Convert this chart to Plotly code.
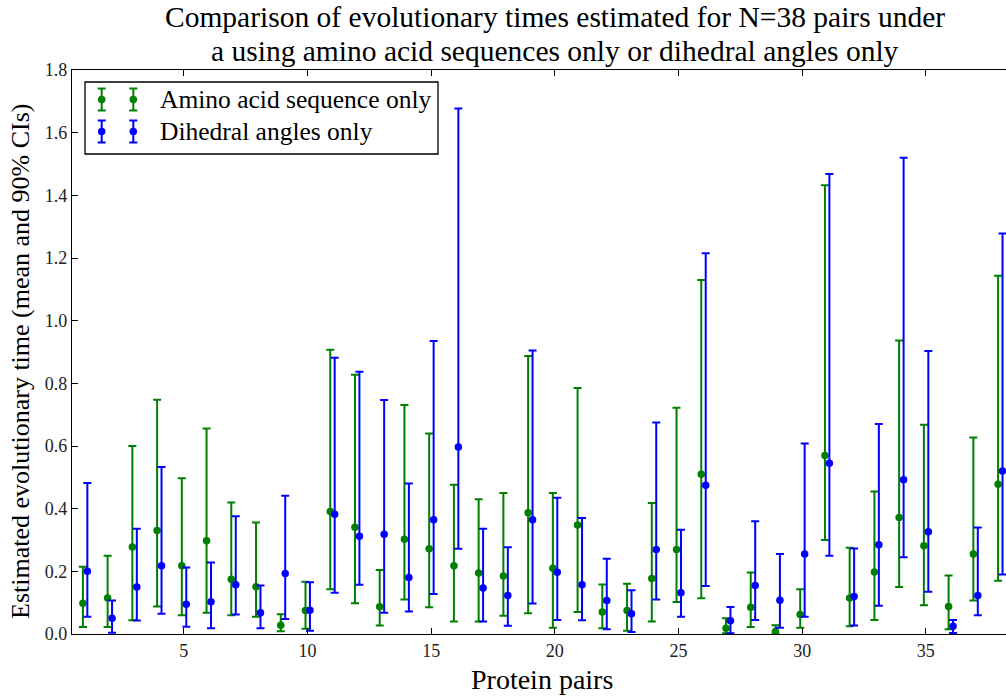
import numpy as np
import plotly.graph_objects as go

pairs = list(range(1, 39))

# Amino acid sequence only: mean, lower 5%, upper 95%
aa_mean = [0.098, 0.115, 0.278, 0.330, 0.218, 0.298, 0.175, 0.151, 0.028, 0.075,
           0.391, 0.341, 0.087, 0.302, 0.272, 0.218, 0.195, 0.185, 0.387, 0.210,
           0.348, 0.070, 0.075, 0.177, 0.270, 0.510, 0.018, 0.085, 0.008, 0.062,
           0.570, 0.115, 0.198, 0.372, 0.282, 0.088, 0.255, 0.478]
aa_lo = [0.022, 0.022, 0.044, 0.088, 0.060, 0.068, 0.060, 0.055, 0.009, 0.017,
         0.143, 0.098, 0.027, 0.110, 0.085, 0.040, 0.040, 0.058, 0.066, 0.020,
         0.070, 0.018, 0.010, 0.040, 0.102, 0.114, 0.002, 0.022, 0.000, 0.020,
         0.300, 0.025, 0.045, 0.150, 0.092, 0.015, 0.107, 0.170]
aa_hi = [0.215, 0.250, 0.600, 0.748, 0.497, 0.656, 0.420, 0.356, 0.063, 0.167,
         0.907, 0.827, 0.204, 0.731, 0.640, 0.476, 0.430, 0.450, 0.887, 0.450,
         0.785, 0.158, 0.160, 0.418, 0.722, 1.130, 0.050, 0.196, 0.028, 0.143,
         1.432, 0.275, 0.455, 0.937, 0.668, 0.187, 0.627, 1.143]

# Dihedral angles only: mean, lower 5%, upper 95%
dh_mean = [0.200, 0.050, 0.150, 0.218, 0.095, 0.103, 0.157, 0.068, 0.193, 0.076,
           0.382, 0.312, 0.318, 0.180, 0.365, 0.597, 0.147, 0.123, 0.365, 0.197,
           0.157, 0.107, 0.065, 0.270, 0.132, 0.475, 0.042, 0.155, 0.108, 0.255,
           0.545, 0.120, 0.285, 0.492, 0.326, 0.025, 0.123, 0.520]
dh_lo = [0.055, 0.004, 0.043, 0.065, 0.023, 0.018, 0.062, 0.018, 0.048, 0.010,
         0.132, 0.157, 0.068, 0.072, 0.128, 0.272, 0.040, 0.026, 0.097, 0.045,
         0.044, 0.015, 0.006, 0.110, 0.055, 0.153, 0.002, 0.045, 0.020, 0.055,
         0.250, 0.027, 0.090, 0.245, 0.135, 0.003, 0.060, 0.190]
dh_hi = [0.482, 0.107, 0.336, 0.533, 0.212, 0.228, 0.376, 0.155, 0.441, 0.165,
         0.882, 0.837, 0.747, 0.480, 0.935, 1.677, 0.336, 0.277, 0.905, 0.435,
         0.370, 0.240, 0.140, 0.675, 0.333, 1.215, 0.086, 0.360, 0.255, 0.608,
         1.468, 0.273, 0.670, 1.520, 0.903, 0.045, 0.340, 1.278]

GREEN = "#008000"
BLUE = "#0000ff"
FONT = "Liberation Serif"

W, H = 1006, 696
L, T, B, R = 72, 70, 62, 0
pw = W - L - R
ph = H - T - B


def px2paper_x(px):
    return (px - L) / pw


def py2paper_y(py):
    return (H - B - py) / ph


x = np.array(pairs, dtype=float)

fig = go.Figure()


def add_series(xs, mean, lo, hi, color, name):
    mean = np.array(mean)
    fig.add_trace(go.Scatter(
        x=xs, y=mean, mode="markers", name=name, showlegend=False,
        marker=dict(color=color, size=7.5, line=dict(width=0)),
        error_y=dict(type="data", symmetric=False,
                     array=np.array(hi) - mean, arrayminus=mean - np.array(lo),
                     color=color, thickness=2, width=4),
        xaxis="x", yaxis="y"))


add_series(x - 0.08, aa_mean, aa_lo, aa_hi, GREEN, "Amino acid sequence only")
add_series(x + 0.10, dh_mean, dh_lo, dh_hi, BLUE, "Dihedral angles only")

# --- legend drawn in an inset pixel-coordinate axes ---
lx0, lx1, ly0, ly1 = 85, 438, 82, 154
legend_names = ["Amino acid sequence only", "Dihedral angles only"]
legend_colors = [GREEN, BLUE]
legend_rows = [99.5, 131.5]
for name, col, yy in zip(legend_names, legend_colors, legend_rows):
    fig.add_trace(go.Scatter(
        x=[101.7, 133.3], y=[yy, yy], mode="markers", showlegend=False,
        marker=dict(color=col, size=7.5),
        error_y=dict(type="constant", value=11, color=col, thickness=2, width=4),
        xaxis="x2", yaxis="y2", hoverinfo="skip"))
    fig.add_annotation(x=px2paper_x(158), y=py2paper_y(yy), xref="paper", yref="paper",
                       text=name, showarrow=False, xanchor="left", yanchor="middle",
                       font=dict(family=FONT, size=25.5, color="black"))

fig.add_shape(type="rect", xref="paper", yref="paper",
              x0=px2paper_x(lx0), x1=px2paper_x(lx1),
              y0=py2paper_y(ly0), y1=py2paper_y(ly1),
              line=dict(color="black", width=1.3), fillcolor="rgba(0,0,0,0)")

# Titles
title_lines = ["Comparison of evolutionary times estimated for N=38 pairs under",
               "a using amino acid sequences only or dihedral angles only"]
for txt, yy in zip(title_lines, [17.5, 51]):
    fig.add_annotation(x=px2paper_x(555), y=py2paper_y(yy), xref="paper", yref="paper",
                       text=txt, showarrow=False, xanchor="center", yanchor="middle",
                       font=dict(family=FONT, size=29.5, color="black"))
fig.add_annotation(x=px2paper_x(542), y=py2paper_y(679), xref="paper", yref="paper",
                   text="Protein pairs", showarrow=False, xanchor="center", yanchor="middle",
                   font=dict(family=FONT, size=28, color="black"))
fig.add_annotation(x=px2paper_x(20), y=py2paper_y(361), xref="paper", yref="paper",
                   text="Estimated evolutionary time (mean and 90% CIs)",
                   showarrow=False, textangle=-90, xanchor="center", yanchor="middle",
                   font=dict(family=FONT, size=26, color="black"))

axis_common = dict(showgrid=False, zeroline=False, showline=True,
                   linecolor="black", linewidth=1.3, ticks="inside",
                   tickcolor="black", tickwidth=1, ticklen=6,
                   tickfont=dict(family=FONT, size=18, color="#222"))

fig.update_layout(
    width=W, height=H,
    margin=dict(l=L, r=R, t=T, b=B, pad=0),
    paper_bgcolor="white", plot_bgcolor="white",
    showlegend=False,
    xaxis=dict(range=[0.48, 38.24], tickvals=[5, 10, 15, 20, 25, 30, 35],
               mirror="ticks", **axis_common),
    yaxis=dict(range=[0, 1.8], tickvals=[0, 0.2, 0.4, 0.6, 0.8, 1.0, 1.2, 1.4, 1.6, 1.8],
               ticktext=["0.0", "0.2", "0.4", "0.6", "0.8", "1.0", "1.2", "1.4", "1.6", "1.8"],
               mirror=False, **axis_common),
    xaxis2=dict(domain=[0, 1], range=[L, W - R], visible=False, anchor="y2",
                overlaying="x"),
    yaxis2=dict(domain=[0, 1], range=[H - B, T], visible=False, anchor="x2",
                overlaying="y"),
)

fig.write_html("out.html")
